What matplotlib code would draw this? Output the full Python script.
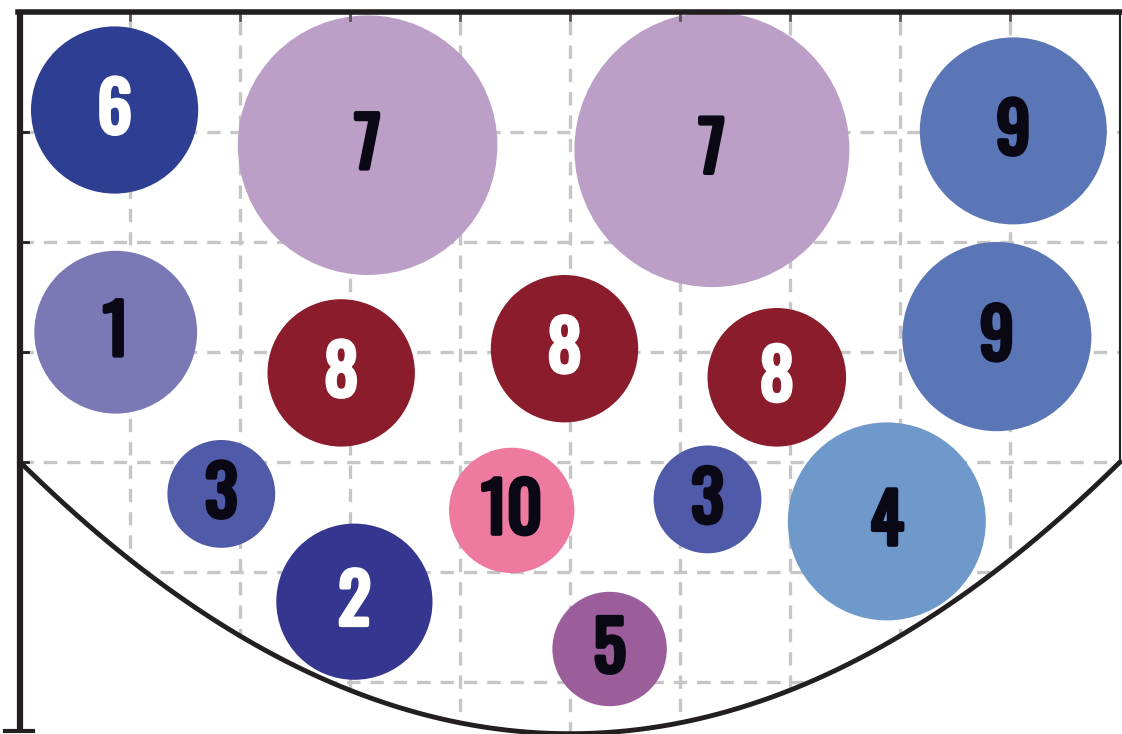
import numpy as np
import matplotlib
matplotlib.use("Agg")
import matplotlib.pyplot as plt
import matplotlib.patheffects as pe
from matplotlib.patches import Circle, Polygon
from matplotlib import font_manager

# bubble data (grid units)
labels = ["6", "7", "7", "9", "9", "1", "8", "8", "8", "3", "10", "3", "4", "2", "5"]
x_pos = [0.86, 3.16, 6.29, 9.03, 8.88, 0.87, 2.92, 4.95, 6.88, 1.83, 4.47, 6.25, 7.88, 3.04, 5.36]
y_pos = [6.20, 5.88, 5.84, 6.01, 4.14, 4.18, 3.81, 4.03, 3.77, 2.71, 2.56, 2.66, 2.46, 1.73, 1.30]
radii = [0.76, 1.18, 1.25, 0.85, 0.86, 0.74, 0.67, 0.67, 0.63, 0.49, 0.57, 0.49, 0.90, 0.71, 0.52]

colors = {
    "1": "#7b78b6", "2": "#34368f", "3": "#4f5aa8", "4": "#6f98cb", "5": "#9b5e9b",
    "6": "#2e3f93", "7": "#bc9fc7", "8": "#8b1c2b", "9": "#5a76b6", "10": "#ef7aa0",
}
white_text = ["2", "6", "8"]

grid_x = [1, 2, 3, 4, 5, 6, 7, 8, 9]
grid_y = [1, 2, 3, 4, 5, 6]

top = 7.09
rim = 3.0
bottom = 0.53

# pick a narrow font if one is around
installed = {f.name for f in font_manager.fontManager.ttflist}
wanted = ["Oswald", "Bebas Neue", "Roboto Condensed", "Liberation Sans Narrow",
          "DejaVu Sans Condensed", "Open Sans Condensed", "Noto Sans Display"]
label_font = [n for n in wanted if n in installed] + ["DejaVu Sans"]


def bowl(x):
    return rim - (rim - bottom) * (1 - ((x - 5) / 5) ** 2)


fig = plt.figure(figsize=(11.22, 7.34), dpi=100)
ax = fig.add_axes([0, 0, 1, 1])
ax.set_xlim(-20 / 110, 1102 / 110)
ax.set_ylim((792 - 734) / 110, 792 / 110)
ax.axis("off")

# bowl outline for clipping
xs = np.linspace(0, 10, 200)
outline = np.column_stack([np.concatenate([[0], xs, [10]]),
                           np.concatenate([[top], bowl(xs), [top]])])
clip = Polygon(outline, closed=True, transform=ax.transData, facecolor="none", edgecolor="none")
ax.add_patch(clip)

for gx in grid_x:
    ln, = ax.plot([gx, gx], [0, top], color="#c6c6c6", lw=2.4, ls=(0, (4, 3)), zorder=1)
    ln.set_clip_path(clip)
for gy in grid_y:
    ln, = ax.plot([0, 10], [gy, gy], color="#c6c6c6", lw=2.4, ls=(0, (4, 3)), zorder=1)
    ln.set_clip_path(clip)

# small inward ticks
for gy in grid_y[2:]:
    ax.plot([0, 0.07], [gy, gy], color="#222222", lw=2, zorder=4)
for gx in grid_x:
    ax.plot([gx, gx], [top, top - 0.07], color="#555555", lw=2, zorder=4)

# frame
ax.plot([0, 0], [0.555, top + 0.02], color="#231f20", lw=4.5, zorder=5, solid_capstyle="butt")
ax.plot([-0.14, 0.12], [0.555, 0.555], color="#231f20", lw=3, zorder=5)
ax.plot([-0.02, 10.2], [top, top], color="#231f20", lw=4, zorder=5)
ax.plot([10, 10], [rim, top], color="#231f20", lw=1.5, zorder=5)
ax.plot(xs, bowl(xs), color="#231f20", lw=3.5, zorder=5)

for lab, cx, cy, r in zip(labels, x_pos, y_pos, radii):
    ax.add_patch(Circle((cx, cy), r, facecolor=colors[lab], edgecolor="none", zorder=3))
    tc = "white" if lab in white_text else "#0a0814"
    ax.text(cx, cy - 0.02, lab, ha="center", va="center", color=tc, fontsize=49,
            fontweight="bold", family=label_font, fontstretch="condensed", zorder=6,
            path_effects=[pe.withStroke(linewidth=3.2, foreground=tc)])

fig.savefig("out.png", dpi=100)
